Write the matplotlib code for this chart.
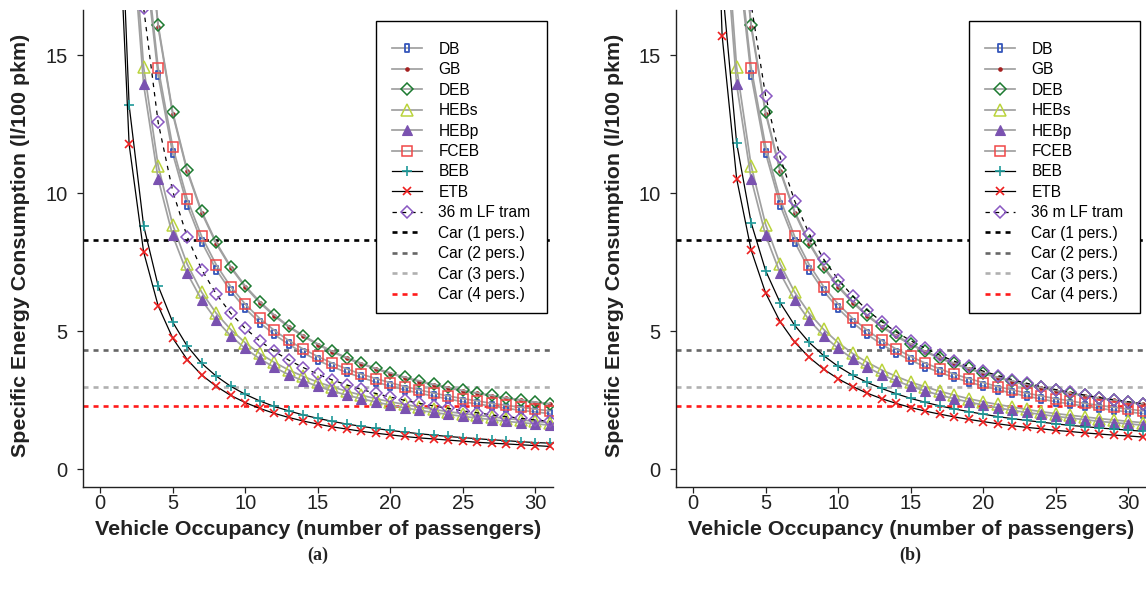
import matplotlib
matplotlib.use("Agg")
import matplotlib.pyplot as plt
from matplotlib.path import Path
from matplotlib.patches import Rectangle

# ---------------- data ----------------
occupancy = list(range(1, 32))

db = [56.49, 28.34, 18.96, 14.27, 11.45, 9.57, 8.23, 7.23, 6.45, 5.82, 5.31, 4.88, 4.52, 4.21, 3.94, 3.71,
      3.50, 3.32, 3.15, 3.01, 2.87, 2.75, 2.64, 2.54, 2.44, 2.36, 2.28, 2.20, 2.13, 2.07, 2.01]
gb = [63.12, 31.72, 21.25, 16.02, 12.88, 10.79, 9.29, 8.17, 7.30, 6.60, 6.03, 5.55, 5.15, 4.81, 4.51, 4.25,
      4.01, 3.81, 3.63, 3.46, 3.31, 3.17, 3.05, 2.94, 2.83, 2.74, 2.65, 2.56, 2.49, 2.41, 2.35]
deb = [63.43, 31.88, 21.36, 16.11, 12.95, 10.85, 9.34, 8.22, 7.34, 6.64, 6.07, 5.59, 5.18, 4.84, 4.54, 4.27,
       4.04, 3.84, 3.65, 3.49, 3.33, 3.20, 3.07, 2.96, 2.85, 2.76, 2.67, 2.58, 2.51, 2.43, 2.37]
hebs = [43.10, 21.70, 14.57, 11.00, 8.86, 7.43, 6.41, 5.65, 5.06, 4.58, 4.19, 3.87, 3.59, 3.36, 3.15, 2.98,
        2.82, 2.68, 2.55, 2.44, 2.34, 2.25, 2.16, 2.08, 2.01, 1.95, 1.89, 1.83, 1.78, 1.73, 1.68]
hebp = [41.27, 20.77, 13.94, 10.52, 8.47, 7.10, 6.13, 5.40, 4.83, 4.37, 4.00, 3.69, 3.42, 3.20, 3.00, 2.83,
        2.68, 2.55, 2.43, 2.32, 2.22, 2.13, 2.05, 1.98, 1.91, 1.85, 1.79, 1.73, 1.68, 1.64, 1.59]
fceb = [57.37, 28.82, 19.30, 14.55, 11.69, 9.79, 8.43, 7.41, 6.61, 5.98, 5.46, 5.03, 4.66, 4.35, 4.08, 3.84,
        3.63, 3.44, 3.28, 3.13, 2.99, 2.87, 2.75, 2.65, 2.55, 2.47, 2.38, 2.31, 2.24, 2.17, 2.11]

# panel (a)
beb_a = [26.29, 13.19, 8.82, 6.64, 5.33, 4.46, 3.83, 3.37, 3.00, 2.71, 2.47, 2.27, 2.11, 1.96, 1.84, 1.73,
         1.63, 1.55, 1.47, 1.40, 1.34, 1.28, 1.23, 1.18, 1.14, 1.10, 1.06, 1.03, 0.99, 0.96, 0.94]
etb_a = [23.47, 11.77, 7.87, 5.92, 4.75, 3.97, 3.41, 3.00, 2.67, 2.41, 2.20, 2.02, 1.87, 1.74, 1.63, 1.53,
         1.45, 1.37, 1.30, 1.24, 1.18, 1.13, 1.09, 1.05, 1.01, 0.97, 0.94, 0.91, 0.88, 0.85, 0.82]
tram_a = [49.92, 25.02, 16.72, 12.57, 10.08, 8.42, 7.23, 6.35, 5.65, 5.10, 4.65, 4.27, 3.95, 3.68, 3.44, 3.23,
          3.05, 2.89, 2.74, 2.61, 2.49, 2.38, 2.29, 2.20, 2.11, 2.04, 1.96, 1.90, 1.84, 1.78, 1.73]

# panel (b)
beb_b = [34.95, 17.60, 11.82, 8.93, 7.19, 6.03, 5.21, 4.59, 4.11, 3.72, 3.40, 3.14, 2.92, 2.73, 2.56, 2.42,
         2.29, 2.18, 2.08, 1.99, 1.90, 1.83, 1.76, 1.70, 1.64, 1.58, 1.54, 1.49, 1.45, 1.41, 1.37]
etb_b = [31.26, 15.71, 10.53, 7.94, 6.38, 5.34, 4.60, 4.05, 3.62, 3.27, 2.99, 2.75, 2.55, 2.38, 2.23, 2.10,
         1.99, 1.89, 1.80, 1.72, 1.64, 1.57, 1.51, 1.46, 1.40, 1.36, 1.31, 1.27, 1.23, 1.20, 1.16]
tram_b = [66.72, 33.47, 22.39, 16.85, 13.52, 11.30, 9.72, 8.53, 7.61, 6.87, 6.27, 5.76, 5.34, 4.97, 4.65, 4.38,
          4.13, 3.91, 3.72, 3.55, 3.39, 3.24, 3.11, 2.99, 2.88, 2.78, 2.68, 2.59, 2.51, 2.44, 2.37]

car_labels = ["Car (1 pers.)", "Car (2 pers.)", "Car (3 pers.)", "Car (4 pers.)"]
car_values = [8.3, 4.3, 2.97, 2.3]

x_ticks = [0, 5, 10, 15, 20, 25, 30]
y_ticks = [0, 5, 10, 15]
captions = ["(a)", "(b)"]

# ---------------- styling ----------------
plt.rcParams['font.family'] = ['Liberation Sans', 'DejaVu Sans']
W, H = 1146, 590
fig = plt.figure(figsize=(W / 100, H / 100), dpi=100)

narrow_rect = Path([(-0.25, -0.5), (0.25, -0.5), (0.25, 0.5), (-0.25, 0.5), (-0.25, -0.5)],
                   [Path.MOVETO, Path.LINETO, Path.LINETO, Path.LINETO, Path.CLOSEPOLY])

GRAY = '#a0a0a0'
TXT = '#222222'
car_colors = ['#000000', '#666666', '#b0b0b0', '#ff1a1a']

AX_W, TOP_PX, BOT_PX = 470.0, 10.0, 486.7


def ax_frac_x(px, left_px):
    return (px - left_px) / AX_W


def ax_frac_y(py):
    return (BOT_PX - py) / (BOT_PX - TOP_PX)


def draw_panel(left_px, beb, etb, tram, caption, ylab_x):
    right_px = left_px + AX_W
    shift = left_px - 82.7
    ax = fig.add_axes([left_px / W, 1 - BOT_PX / H, AX_W / W, (BOT_PX - TOP_PX) / H])
    common = dict(lw=1.25, color=GRAY, zorder=3)
    ax.plot(occupancy, db, marker=narrow_rect, ms=6.2, mfc='none', mec='#3556bb', mew=1.3, label='DB', **common)
    ax.plot(occupancy, gb, marker='o', ms=2.3, mfc='#a52020', mec='#a52020', label='GB', **common)
    ax.plot(occupancy, deb, marker='D', ms=6.0, mfc='none', mec='#1c7a30', mew=1.1, label='DEB', **common)
    ax.plot(occupancy, hebs, marker='^', ms=8.2, mfc='none', mec='#bad43c', mew=1.1, label='HEBs', **common)
    ax.plot(occupancy, hebp, marker='^', ms=7.8, mfc='#7a52b0', mec='#7a52b0', mew=0.8, label='HEBp', **common)
    ax.plot(occupancy, fceb, marker='s', ms=6.7, mfc='none', mec='#f04848', mew=1.1, label='FCEB', **common)
    ax.plot(occupancy, beb, color='black', lw=0.9, marker='+', ms=7.5, mec='#1f9a9a', mew=1.2,
            label='BEB', zorder=4)
    ax.plot(occupancy, etb, color='black', lw=0.9, marker='x', ms=5.8, mec='#ee2020', mew=1.2,
            label='ETB', zorder=4)
    ax.plot(occupancy, tram, color='black', lw=0.9, ls=(0, (3.5, 4.0)), marker='D', ms=6.0, mfc='none',
            mec='#8a58c2', mew=1.1, label='36 m LF tram', zorder=4)
    for lab, val, col in zip(car_labels, car_values, car_colors):
        ax.axhline(val, color=col, lw=1.9, ls=(0, (1.9, 1.9)), label=lab, zorder=2)

    ax.set_xlim(-1.2, 31.2)
    ax.set_ylim(-0.64, 16.64)
    ax.set_xticks(x_ticks)
    ax.set_yticks(y_ticks)
    ax.tick_params(direction='out', length=4.5, width=0.9, labelsize=14.5, pad=1.0, colors=TXT,
                   labelcolor=TXT)
    ax.tick_params(axis='y', pad=6.5)
    for s in ['top', 'right']:
        ax.spines[s].set_visible(False)
    for s in ['left', 'bottom']:
        ax.spines[s].set_linewidth(1.0)
        ax.spines[s].set_color(TXT)

    # legend frame and entries
    x0, x1 = ax_frac_x(376 + shift, left_px), ax_frac_x(547 + shift, left_px)
    y0, y1 = ax_frac_y(313.3), ax_frac_y(21.0)
    ax.add_patch(Rectangle((x0, y0), x1 - x0, y1 - y0, transform=ax.transAxes, facecolor='white',
                           edgecolor='black', lw=1.0, zorder=9, clip_on=False))
    leg = ax.legend(loc='upper left',
                    bbox_to_anchor=(ax_frac_x(391.7 + shift, left_px), ax_frac_y(41.8)),
                    fontsize=11.2, frameon=False, handlelength=1.93, handletextpad=1.07,
                    labelspacing=0.35, borderpad=0.0, borderaxespad=0.0, numpoints=1)
    leg.set_zorder(10)

    cx = (left_px + right_px) / 2
    fig.text(cx / W, 1 - 529.5 / H, 'Vehicle Occupancy (number of passengers)', ha='center', va='center',
             fontsize=15.4, fontweight='bold', color=TXT)
    fig.text(ylab_x / W, 1 - 245 / H, 'Specific Energy Consumption (l/100 pkm)', ha='center', va='center',
             rotation=90, fontsize=15.4, fontweight='bold', color=TXT)
    fig.text(cx / W, 1 - 555 / H, caption, ha='center', va='center', fontsize=13,
             fontweight='bold', family='Liberation Serif', color=TXT)
    return ax


draw_panel(82.7, beb_a, etb_a, tram_a, captions[0], 21)
draw_panel(675.7, beb_b, etb_b, tram_b, captions[1], 614)

fig.savefig('out.png', dpi=100)
